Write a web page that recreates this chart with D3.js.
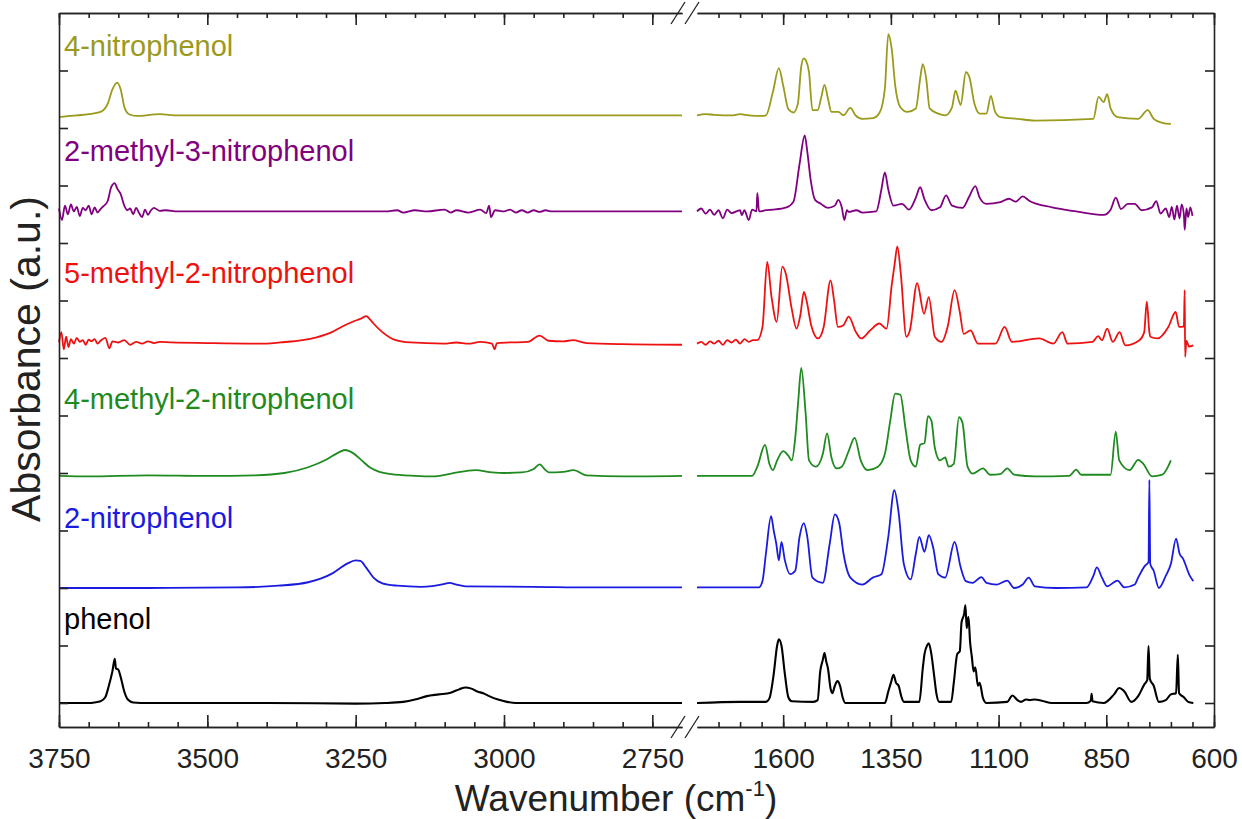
<!DOCTYPE html>
<html>
<head>
<meta charset="utf-8">
<script src="https://cdn.jsdelivr.net/npm/d3@7/dist/d3.min.js"></script>
<style>
  html, body { margin: 0; padding: 0; background: #fff; }
  svg { display: block; font-family: "Liberation Sans", Arial, Helvetica, sans-serif; }
</style>
</head>
<body>
<svg id="chart" width="1242" height="819"></svg>
<script>
// ---------------- DATA (wavenumber cm-1, absorbance a.u. relative to each trace baseline) ----------------
const compounds = ["phenol", "2-nitrophenol", "4-methyl-2-nitrophenol", "5-methyl-2-nitrophenol", "2-methyl-3-nitrophenol", "4-nitrophenol"];
const offsets = [0, 2, 3.95, 6.25, 8.55, 10.22];
const colors = ["#000000", "#1a1ae0", "#1f8a1f", "#ee1111", "#800080", "#9a9a1c"];
const leftTicks = [3750, 3500, 3250, 3000, 2750];
const rightTicks = [1600, 1350, 1100, 850, 600];
const leftDomain = [3750, 2700];
const rightDomain = [1800, 600];

const phenol = [
  [3750,0],[3700,0],[3690,0.01],[3680,0.03],[3672,0.1],[3666,0.3],[3660,0.55],[3656,0.77],[3654,0.6],[3650,0.58],[3646,0.45],[3640,0.2],[3634,0.06],[3625,0.01],[3600,0],[3400,0],[3250,-0.01],[3200,0],[3170,0.02],[3150,0.06],[3130,0.12],[3110,0.15],[3090,0.18],[3075,0.24],[3065,0.27],[3055,0.25],[3045,0.2],[3035,0.17],[3025,0.12],[3010,0.06],[2995,0.02],[2980,0],[2900,0],[2700,0],
  [1800,0],[1700,0.02],[1640,0.02],[1632,0.08],[1622,0.5],[1614,1.0],[1610,1.11],[1604,1.0],[1596,0.5],[1588,0.1],[1580,0.03],[1530,0.02],[1520,0.05],[1514,0.55],[1508,0.75],[1504,0.87],[1500,0.72],[1496,0.6],[1490,0.25],[1486,0.17],[1480,0.3],[1474,0.38],[1468,0.3],[1462,0.1],[1456,0],[1364,0],[1356,0.2],[1350,0.35],[1344,0.49],[1338,0.35],[1332,0.3],[1326,0.12],[1320,0.02],[1284,0.02],[1276,0.6],[1272,0.85],[1266,1.0],[1262,1.04],[1256,0.85],[1250,0.5],[1244,0.15],[1238,0.02],[1210,0.02],[1204,0.35],[1196,0.85],[1190,0.9],[1186,1.4],[1180,1.55],[1177,1.7],[1174,1.3],[1170,1.5],[1166,1.05],[1162,0.8],[1158,0.55],[1154,0.62],[1148,0.3],[1144,0.35],[1136,0.08],[1128,0],[1080,0.02],[1068,0.13],[1056,0.05],[1048,0.02],[1036,0.06],[1028,0.05],[1016,0.06],[1000,0.04],[976,0],[896,0],[886,0.04],[884,0.16],[882,0.03],[856,0],[832,0.15],[820,0.26],[808,0.2],[792,0.02],[776,0.12],[762,0.32],[755,0.4],[752,0.99],[749,0.42],[740,0.3],[728,0.02],[712,0.05],[700,0.15],[688,0.17],[684,0.84],[681,0.17],[670,0.1],[660,0.02],[648,0]
];

const nitrophenol2 = [
  [3750,0],[3600,0],[3450,0.01],[3380,0.04],[3330,0.1],[3290,0.25],[3265,0.42],[3250,0.48],[3242,0.47],[3232,0.35],[3220,0.18],[3205,0.08],[3180,0.04],[3140,0.02],[3100,0.07],[3092,0.09],[3080,0.06],[3065,0.03],[2950,0.02],[2850,0.01],[2700,0.01],
  [1800,0.01],[1700,0.01],[1656,0.01],[1648,0.12],[1640,0.6],[1628,1.25],[1622,1.0],[1616,0.77],[1610,0.48],[1604,0.8],[1596,0.48],[1584,0.24],[1572,0.3],[1562,0.89],[1552,1.13],[1544,0.89],[1532,0.18],[1508,0.09],[1492,0.77],[1480,1.28],[1470,1.13],[1460,0.6],[1444,0.18],[1416,0.06],[1392,0.18],[1372,0.24],[1356,0.89],[1342,1.7],[1332,1.31],[1320,0.42],[1304,0.15],[1292,0.6],[1284,0.89],[1272,0.63],[1262,0.92],[1252,0.71],[1240,0.24],[1224,0.18],[1202,0.8],[1188,0.36],[1176,0.12],[1160,0.09],[1140,0.19],[1128,0.09],[1104,0.06],[1080,0.13],[1064,0],[1044,0.06],[1030,0.18],[1016,0.03],[968,0],[896,0.01],[880,0.21],[872,0.36],[860,0.18],[848,0.03],[824,0.13],[808,0.01],[784,0.06],[776,0.18],[760,0.39],[752,0.45],[750,1.88],[748,0.42],[740,0.3],[728,0],[712,0.21],[700,0.42],[688,0.86],[680,0.6],[672,0.51],[656,0.21],[648,0.12]
];

const methyl4nitro2 = [
  [3750,0],[3700,-0.01],[3600,0.01],[3500,0],[3420,0.01],[3370,0.05],[3330,0.15],[3300,0.28],[3280,0.4],[3268,0.45],[3255,0.4],[3240,0.27],[3225,0.14],[3210,0.07],[3190,0.03],[3150,0],[3120,-0.01],[3089,0.04],[3048,0.1],[3020,0.06],[2999,0.05],[2970,0.06],[2950,0.12],[2940,0.2],[2930,0.1],[2924,0.06],[2900,0.07],[2883,0.1],[2861,0.01],[2800,-0.01],[2700,0],
  [1800,0],[1700,0],[1672,0],[1660,0.16],[1642,0.54],[1632,0.21],[1624,0.1],[1614,0.27],[1600,0.43],[1588,0.35],[1580,0.27],[1572,0.66],[1565,1.3],[1558,1.88],[1548,1.1],[1540,0.27],[1524,0.16],[1508,0.38],[1498,0.74],[1488,0.32],[1476,0.13],[1464,0.16],[1448,0.43],[1434,0.66],[1420,0.27],[1404,0.1],[1380,0.16],[1364,0.38],[1352,0.93],[1340,1.43],[1328,1.41],[1316,0.82],[1304,0.27],[1292,0.16],[1282,0.54],[1272,0.57],[1264,1.04],[1256,0.96],[1248,0.49],[1236,0.27],[1224,0.32],[1216,0.16],[1204,0.21],[1192,1.02],[1184,0.93],[1172,0.16],[1160,0.04],[1136,0.13],[1120,0.02],[1096,0.03],[1080,0.13],[1064,0.02],[1016,-0.01],[936,0],[920,0.11],[908,0.02],[840,0.02],[828,0.77],[820,0.27],[796,0.1],[776,0.28],[764,0.21],[744,-0.01],[720,0.02],[700,0.27]
];

const methyl5nitro2 = [
  [3750,0.02],[3746,0.2],[3742,-0.1],[3738,0.12],[3734,-0.06],[3730,0.08],[3725,0],[3720,0.1],[3715,0.03],[3710,0.06],[3705,-0.02],[3700,0.07],[3695,0.04],[3690,0.08],[3685,0],[3680,0.05],[3672,0.1],[3665,-0.08],[3660,0.04],[3650,0.02],[3640,0.06],[3630,-0.02],[3620,0.03],[3610,0],[3600,0.04],[3590,0.01],[3580,0.03],[3560,0.02],[3500,0.01],[3400,0],[3377,0.02],[3340,0.06],[3316,0.11],[3290,0.2],[3274,0.29],[3255,0.38],[3240,0.44],[3232,0.48],[3226,0.42],[3220,0.35],[3205,0.2],[3185,0.07],[3158,0.02],[3102,0],[3080,0.02],[3060,0],[3040,0.03],[3020,0],[3016,-0.1],[3012,0.01],[2990,0.02],[2960,0.03],[2940,0.14],[2925,0.05],[2900,0.04],[2884,0.06],[2861,0.01],[2800,-0.01],[2700,-0.02],
  [1800,0],[1790,0.03],[1780,-0.02],[1770,0.04],[1760,0],[1750,0.05],[1740,-0.02],[1730,0.06],[1720,0.02],[1710,0.07],[1700,0],[1690,0.08],[1680,0.03],[1670,0.06],[1660,0.06],[1648,0.29],[1637,1.42],[1627,0.81],[1615,0.38],[1602,1.34],[1594,1.22],[1580,0.6],[1569,0.26],[1560,0.5],[1552,0.9],[1546,0.76],[1535,0.32],[1519,0.09],[1506,0.29],[1490,1.1],[1482,0.76],[1473,0.29],[1460,0.32],[1448,0.47],[1431,0.2],[1419,0.09],[1398,0.23],[1377,0.35],[1360,0.26],[1348,1.02],[1341,1.4],[1335,1.69],[1327,1.22],[1314,0.12],[1306,0.23],[1289,1.05],[1273,0.52],[1262,0.81],[1248,0.12],[1232,0.03],[1218,0.3],[1202,0.93],[1190,0.55],[1181,0.17],[1165,0.23],[1148,0],[1107,0],[1086,0.29],[1069,0.03],[1006,0.09],[973,0],[952,0.2],[940,0],[882,0.03],[869,0.13],[860,0.06],[848,0.26],[835,0.03],[819,0.2],[806,-0.03],[773,0.06],[762,0.2],[756,0.73],[750,0.2],[748,0.12],[731,0.09],[706,0.29],[689,0.55],[681,0.29],[670,0.3],[668,0.93],[667,-0.23],[664,0.05],[658,-0.05],[648,-0.03]
];

const methyl2nitro3 = [
  [3750,0.05],[3745,-0.15],[3740,0.1],[3735,-0.05],[3730,0.12],[3725,0],[3720,0.08],[3715,-0.08],[3710,0.06],[3705,0.02],[3700,0.1],[3695,-0.05],[3690,0.07],[3685,-0.02],[3680,0.04],[3675,0.09],[3668,0.18],[3662,0.42],[3656,0.49],[3652,0.4],[3646,0.3],[3640,0.1],[3635,0.02],[3630,0.05],[3625,-0.05],[3620,0.06],[3615,-0.03],[3610,-0.1],[3605,0.03],[3600,-0.06],[3595,0.02],[3590,0.06],[3580,0.01],[3570,0.02],[3550,0],[3400,0],[3200,0],[3180,0.02],[3170,-0.02],[3150,0.02],[3130,0],[3100,0.03],[3090,-0.02],[3080,0.02],[3060,-0.02],[3040,0.03],[3030,-0.03],[3025,0.1],[3022,-0.1],[3015,0.02],[3000,0],[2990,0.03],[2980,-0.02],[2970,0.02],[2960,-0.02],[2950,0.02],[2940,-0.01],[2930,0.02],[2920,0],[2900,0],[2700,0],
  [1800,0],[1790,0.05],[1780,-0.04],[1770,0.03],[1760,-0.06],[1750,0.02],[1740,-0.12],[1730,0.03],[1720,-0.03],[1700,0.02],[1696,-0.07],[1690,0.02],[1680,-0.15],[1672,0.03],[1662,0],[1660,0.32],[1656,0],[1640,0.02],[1624,0.03],[1592,0.07],[1576,0.17],[1562,0.82],[1550,1.32],[1544,1.04],[1536,0.54],[1526,0.2],[1512,0.13],[1496,0.06],[1480,0.1],[1472,0.2],[1464,0.07],[1458,-0.15],[1452,0.02],[1448,-0.01],[1430,0.02],[1416,-0.02],[1384,0],[1372,0.38],[1364,0.68],[1356,0.38],[1344,0.1],[1324,0.13],[1308,0.03],[1292,0.24],[1282,0.42],[1272,0.21],[1256,0.02],[1236,0.07],[1222,0.28],[1208,0.1],[1184,0.06],[1168,0.26],[1154,0.44],[1144,0.24],[1128,0.13],[1096,0.16],[1076,0.22],[1060,0.17],[1044,0.26],[1028,0.18],[976,0.07],[920,0],[856,-0.06],[840,0.03],[828,0.24],[816,0.04],[800,0.13],[784,0.13],[768,0.02],[744,0.07],[734,0.18],[724,-0.04],[712,0.05],[704,-0.1],[698,0.08],[692,-0.14],[686,0.1],[680,-0.12],[675,0.12],[670,-0.05],[668,-0.32],[664,0.05],[660,-0.1],[655,0.07],[650,-0.08]
];

const nitrophenol4 = [
  [3750,-0.03],[3720,0],[3700,0.02],[3680,0.06],[3668,0.2],[3660,0.45],[3652,0.57],[3646,0.45],[3640,0.15],[3632,0.02],[3620,-0.01],[3580,0.02],[3550,0],[3400,0],[3000,0],[2700,0],
  [1800,0],[1780,0.02],[1760,0.01],[1720,0],[1700,0.02],[1680,0],[1650,-0.01],[1640,0],[1624,0.4],[1610,0.82],[1600,0.52],[1588,0.11],[1576,0.05],[1566,0.2],[1558,0.85],[1552,0.99],[1547,0.95],[1540,0.75],[1532,0.09],[1520,0.09],[1512,0.3],[1504,0.53],[1496,0.29],[1488,0.06],[1472,0.06],[1460,0],[1444,0.13],[1432,0],[1416,-0.06],[1392,-0.05],[1376,0.05],[1364,0.46],[1356,1.41],[1348,1.15],[1340,0.52],[1328,0.14],[1312,0.06],[1292,0.12],[1282,0.64],[1276,0.89],[1268,0.64],[1260,0.12],[1240,0.03],[1224,0],[1208,0.14],[1200,0.43],[1192,0.25],[1188,0.18],[1176,0.75],[1168,0.67],[1156,0.2],[1144,0.03],[1128,0.03],[1118,0.34],[1108,0.06],[1096,-0.03],[1056,-0.06],[1016,-0.09],[880,-0.06],[868,0.32],[856,0.23],[848,0.37],[840,0.12],[824,-0.03],[776,-0.06],[754,0.09],[740,-0.06],[720,-0.13],[700,-0.15]
];

const spectra = [phenol, nitrophenol2, methyl4nitro2, methyl5nitro2, methyl2nitro3, nitrophenol4];

// ---------------- LAYOUT ----------------
const svg = d3.select("#chart");
const plot = { left: 59, right: 1214, top: 13, bottom: 727 };
const breakL = 682, breakR = 697;

const xLeft = d3.scaleLinear().domain(leftDomain).range([plot.left, breakL]);
const xRight = d3.scaleLinear().domain(rightDomain).range([breakR, plot.right]);
const y = d3.scaleLinear().domain([-24 / 57.5, 12]).range([plot.bottom, plot.top]);

// ---------------- SPECTRA ----------------
const g = svg.append("g");
spectra.forEach((s, i) => {
  const leftPts = s.filter(d => d[0] >= leftDomain[1]);
  const rightPts = s.filter(d => d[0] <= rightDomain[0]);
  [[leftPts, xLeft], [rightPts, xRight]].forEach(([pts, xs]) => {
    const line = d3.line()
      .x(d => xs(d[0]))
      .y(d => y(d[1] + offsets[i]))
      .curve(d3.curveMonotoneX);
    g.append("path")
      .attr("d", line(pts))
      .attr("fill", "none")
      .attr("stroke", colors[i])
      .attr("stroke-width", i === 0 ? 2.1 : 1.8)
      .attr("stroke-linejoin", "round");
  });
});

// ---------------- AXES ----------------
const axisColor = "#222";
function minorTicks(domain) {
  const lo = Math.min(...domain), hi = Math.max(...domain);
  return d3.range(Math.ceil(lo / 50) * 50, hi + 1, 50);
}
const leftMinor = minorTicks(leftDomain).filter(v => v !== 2700);
const rightMinor = minorTicks(rightDomain).filter(v => v !== 1800);

function styleAxis(sel) {
  sel.selectAll("path, line").attr("stroke", axisColor).attr("stroke-width", 1.6);
  sel.selectAll("text").attr("fill", "#222").attr("font-size", 28)
    .attr("font-family", '"Liberation Sans", Arial, sans-serif');
}

[[xLeft, leftTicks, leftMinor], [xRight, rightTicks, rightMinor]].forEach(([xs, major, minor]) => {
  svg.append("g").attr("transform", `translate(0,${plot.bottom})`)
    .call(d3.axisBottom(xs).tickValues(minor).tickSize(-5).tickSizeOuter(0).tickFormat(""))
    .call(styleAxis);
  svg.append("g").attr("transform", `translate(0,${plot.bottom})`)
    .call(d3.axisBottom(xs).tickValues(major).tickSize(-12).tickSizeOuter(0).tickPadding(21).tickFormat(d3.format("d")))
    .call(styleAxis);
  svg.append("g").attr("transform", `translate(0,${plot.top})`)
    .call(d3.axisTop(xs).tickValues(minor).tickSize(-5).tickSizeOuter(0).tickFormat(""))
    .call(styleAxis);
  svg.append("g").attr("transform", `translate(0,${plot.top})`)
    .call(d3.axisTop(xs).tickValues(major).tickSize(-12).tickSizeOuter(0).tickFormat(""))
    .call(styleAxis);
});

const yTicks = d3.range(0, 12, 1);
svg.append("g").attr("transform", `translate(${plot.left},0)`)
  .call(d3.axisRight(y).tickValues(yTicks).tickSize(9).tickSizeOuter(0).tickFormat(""))
  .call(styleAxis);
svg.append("g").attr("transform", `translate(${plot.right},0)`)
  .call(d3.axisLeft(y).tickValues(yTicks).tickSize(9).tickSizeOuter(0).tickFormat(""))
  .call(styleAxis);

// break marks
[plot.top, plot.bottom].forEach(yy => {
  svg.append("rect").attr("x", breakL + 1).attr("y", yy - 3).attr("width", breakR - breakL - 2).attr("height", 6).attr("fill", "#fff");
  [678, 692].forEach(cx => {
    svg.append("line")
      .attr("x1", cx - 7).attr("y1", yy + 11)
      .attr("x2", cx + 7).attr("y2", yy - 11)
      .attr("stroke", axisColor).attr("stroke-width", 1.3);
  });
});

// ---------------- LABELS ----------------
const labelY = [629, 528, 409, 283, 161, 56];
compounds.forEach((name, i) => {
  svg.append("text")
    .attr("x", 64).attr("y", labelY[i])
    .attr("fill", colors[i])
    .attr("font-size", 29)
    .text(name);
});

const xt = svg.append("text")
  .attr("x", 616).attr("y", 811)
  .attr("text-anchor", "middle")
  .attr("font-size", 37)
  .attr("fill", "#222");
xt.append("tspan").text("Wavenumber (cm");
xt.append("tspan").attr("font-size", 22).attr("dy", -15).text("-1");
xt.append("tspan").attr("dy", 15).text(")");

svg.append("text")
  .attr("transform", "translate(40,359) rotate(-90)")
  .attr("text-anchor", "middle")
  .attr("font-size", 41)
  .attr("fill", "#222")
  .text("Absorbance (a.u.)");
</script>
</body>
</html>
